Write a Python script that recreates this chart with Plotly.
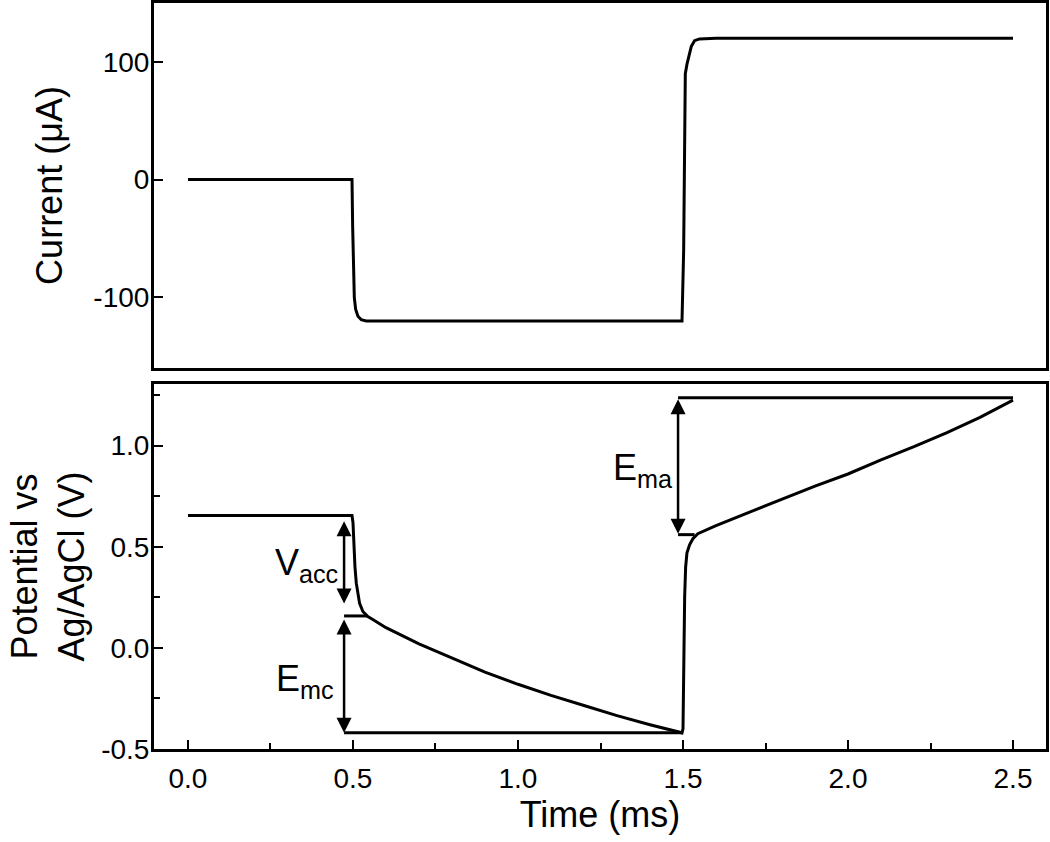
import plotly.graph_objects as go
from plotly.subplots import make_subplots

# current trace (ms, uA)
t_current = [0.0, 0.49, 0.497, 0.499, 0.501, 0.504, 0.508, 0.515, 0.525, 0.54, 0.6, 1.0, 1.497,
             1.502, 1.505, 1.507, 1.512, 1.518, 1.525, 1.535, 1.55, 1.6, 2.0, 2.5]
current = [0, 0, 0, -40, -80, -100, -110, -116, -119, -120, -120, -120, -120,
           -60, 20, 90, 98, 106, 113, 118, 119.5, 120, 120, 120]

# potential trace (ms, V)
t_potential = [0.0, 0.49, 0.497, 0.5, 0.503, 0.506, 0.51, 0.515, 0.52, 0.53, 0.545, 0.56, 0.6, 0.7,
               0.8, 0.9, 1.0, 1.1, 1.2, 1.3, 1.4, 1.497, 1.5, 1.502, 1.505, 1.508, 1.512, 1.52,
               1.53, 1.545, 1.6, 1.7, 1.8, 1.9, 2.0, 2.1, 2.2, 2.3, 2.4, 2.5]
potential = [0.655, 0.655, 0.655, 0.62, 0.5, 0.4, 0.32, 0.26, 0.22, 0.18, 0.155, 0.14, 0.1, 0.02,
             -0.05, -0.12, -0.18, -0.235, -0.285, -0.335, -0.38, -0.42, -0.4, -0.1, 0.25, 0.4,
             0.47, 0.51, 0.54, 0.565, 0.605, 0.67, 0.735, 0.8, 0.86, 0.93, 0.995, 1.065, 1.14, 1.225]

# marker levels for the overpotential annotations
v_acc = [0.634, 0.22]
e_mc = [0.148, -0.42]
e_ma = [1.237, 0.564]
cath_x, anod_x = 0.473, 1.485
labels = ["V<sub>acc</sub>", "E<sub>mc</sub>", "E<sub>ma</sub>"]

x_ticks = [0.0, 0.5, 1.0, 1.5, 2.0, 2.5]
cur_ticks = [-100, 0, 100]
pot_ticks = [-0.5, 0.0, 0.5, 1.0]

FONT = "Liberation Sans, Arial, sans-serif"

fig = make_subplots(rows=2, cols=1, shared_xaxes=True, vertical_spacing=16 / 746)

fig.add_trace(go.Scatter(x=t_current, y=current, mode="lines",
                         line=dict(color="black", width=3)), row=1, col=1)
fig.add_trace(go.Scatter(x=t_potential, y=potential, mode="lines",
                         line=dict(color="black", width=3)), row=2, col=1)

# horizontal guide lines
guides = [
    (cath_x, 0.545, e_mc[0] + 0.01),
    (cath_x, 1.5, e_mc[1]),
    (anod_x, 2.5, e_ma[0]),
    (anod_x, 1.535, e_ma[1] - 0.004),
]
for x0, x1, yv in guides:
    fig.add_shape(type="line", xref="x2", yref="y2", x0=x0, x1=x1, y0=yv, y1=yv,
                  line=dict(color="black", width=3))

# double-headed arrows
for xa, (ytop, ybot) in [(cath_x, v_acc), (cath_x, e_mc), (anod_x, e_ma)]:
    fig.add_annotation(x=xa, y=ybot, ax=xa, ay=ytop, xref="x2", yref="y2",
                       axref="x2", ayref="y2", text="", showarrow=True,
                       arrowside="end+start", arrowhead=2, arrowsize=1.2,
                       arrowwidth=2.5, arrowcolor="black", standoff=0, startstandoff=0)

for txt, xl, yl in zip(labels, [0.36, 0.355, 1.38], [0.41, -0.165, 0.88]):
    fig.add_annotation(x=xl, y=yl, xref="x2", yref="y2", text=txt, showarrow=False,
                       font=dict(family=FONT, size=36, color="black"))

axis_common = dict(showline=True, linewidth=3, linecolor="black", mirror=True,
                   showgrid=False, zeroline=False, automargin=False,
                   tickfont=dict(family=FONT, size=28, color="black"))

fig.update_xaxes(range=[-0.103, 2.6], **axis_common)
fig.update_xaxes(showticklabels=False, ticks="", row=1, col=1)
fig.update_xaxes(ticks="inside", ticklen=9, tickwidth=2, tickcolor="black",
                 tickvals=x_ticks, ticktext=[f"{v:.1f}" for v in x_ticks],
                 minor=dict(ticks="inside", ticklen=6, tickwidth=2, tickcolor="black",
                            tickvals=[0.25, 0.75, 1.25, 1.75, 2.25]),
                 ticklabelstandoff=2,
                 title=dict(text="Time (ms)", font=dict(family=FONT, size=36, color="black"),
                            standoff=8),
                 row=2, col=1)

fig.update_yaxes(**axis_common)
fig.update_yaxes(range=[-160, 150], ticks="inside", ticklen=9, tickwidth=2, tickcolor="black",
                 tickvals=cur_ticks, ticktext=[str(v) for v in cur_ticks], ticklabelstandoff=-4,
                 title=dict(text="Current (\u03bcA)", font=dict(family=FONT, size=36, color="black"),
                            standoff=20),
                 row=1, col=1)
fig.update_yaxes(range=[-0.5, 1.305], ticks="inside", ticklen=9, tickwidth=2, tickcolor="black",
                 tickvals=pot_ticks, ticktext=[f"{v:.1f}" for v in pot_ticks],
                 minor=dict(ticks="inside", ticklen=6, tickwidth=2, tickcolor="black",
                            tickvals=[-0.25, 0.25, 0.75, 1.25]),
                 ticklabelstandoff=-4,
                 title=dict(text="Potential vs<br>Ag/AgCl (V)",
                            font=dict(family=FONT, size=36, color="black"), standoff=6),
                 row=2, col=1)

fig.update_layout(width=1050, height=842, showlegend=False,
                  paper_bgcolor="white", plot_bgcolor="white",
                  margin=dict(l=154, r=4, t=3, b=93))

fig.write_html("out.html", config={"displayModeBar": False},
               post_script="document.body.style.margin='0';")
